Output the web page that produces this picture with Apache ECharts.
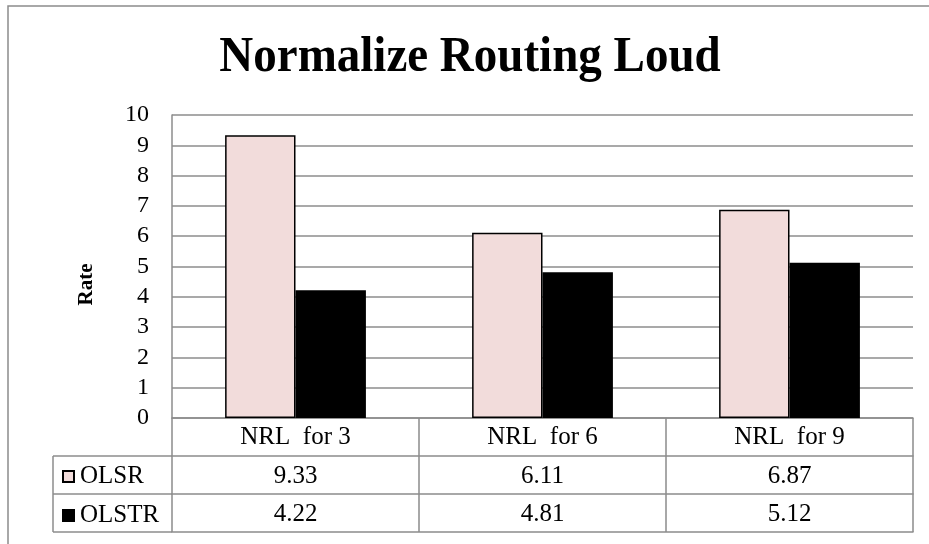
<!DOCTYPE html>
<html><head><meta charset="utf-8">
<script src="https://cdn.jsdelivr.net/npm/echarts@6/dist/echarts.min.js"></script>
<style>html,body{margin:0;padding:0;background:#fff}#c{width:929px;height:544px}</style>
</head><body><div id="c"></div>
<script>
const titleText = 'Normalize Routing Loud';
const categories = ['NRL  for 3', 'NRL  for 6', 'NRL  for 9'];
const seriesNames = ['OLSR', 'OLSTR'];
const olsr = [9.33, 6.11, 6.87];
const olstr = [4.22, 4.81, 5.12];
const yTicks = [0, 1, 2, 3, 4, 5, 6, 7, 8, 9, 10];

const FONT = '"Liberation Serif", "Times New Roman", serif';
const GRAY = '#8c8c8c';
const chart = echarts.init(document.getElementById('c'), null, {renderer: 'canvas'});
const gl = 172, gr = 16, gt = 115, gb = 126;
const axisY = 544 - gb;
const rowH = 38;

function tableAxis(values, idx) {
  return {
    type: 'category', data: categories, position: 'bottom', offset: rowH * idx,
    gridIndex: 0,
    axisLine: {show: true, lineStyle: {color: GRAY, width: 1.5}},
    axisTick: {show: values !== null, length: rowH, lineStyle: {color: GRAY, width: 1.5}},
    axisLabel: values === null ? {show: false} : {
      show: true, margin: 8, color: '#000', fontFamily: FONT, fontSize: 25,
      formatter: (v, i) => values[i].toFixed(2)
    },
    splitLine: {show: false}
  };
}

const option = {
  animation: false,
  backgroundColor: '#fff',
  grid: {left: gl, right: gr, top: gt, bottom: gb, containLabel: false},
  legend: {
    orient: 'vertical', left: 57, top: 459, itemGap: 14, itemWidth: 11, itemHeight: 11,
    icon: 'rect', data: seriesNames,
    textStyle: {fontFamily: FONT, fontSize: 25, color: '#000', padding: [0, 0, 0, 1]}
  },
  xAxis: [
    {
      type: 'category', data: categories, position: 'bottom',
      axisLine: {show: true, lineStyle: {color: GRAY, width: 1.5}},
      axisTick: {show: true, length: rowH, lineStyle: {color: GRAY, width: 1.5}},
      axisLabel: {show: true, margin: 7, color: '#000', fontFamily: FONT, fontSize: 25},
      splitLine: {show: false}
    },
    tableAxis(olsr, 1),
    tableAxis(olstr, 2),
    tableAxis(null, 3)
  ],
  yAxis: {
    type: 'value', min: yTicks[0], max: yTicks[yTicks.length - 1], interval: 1,
    name: 'Rate', nameLocation: 'middle', nameGap: 75, nameRotate: 90,
    nameTextStyle: {fontFamily: FONT, fontSize: 21, fontWeight: 'bold', color: '#000', padding: [0, 0, 0, -36]},
    axisLine: {show: true, lineStyle: {color: GRAY, width: 1.5}},
    axisTick: {show: false},
    axisLabel: {color: '#000', fontFamily: FONT, fontSize: 24, margin: 23},
    splitLine: {show: true, lineStyle: {color: GRAY, width: 1.5}}
  },
  series: [
    {name: seriesNames[0], type: 'bar', data: olsr, barGap: '0%', barCategoryGap: '43%',
      itemStyle: {color: '#f2dcdb', borderColor: '#000', borderWidth: 1.5}},
    {name: seriesNames[1], type: 'bar', data: olstr, barGap: '0%', barCategoryGap: '43%',
      itemStyle: {color: '#000', borderColor: '#000', borderWidth: 1.5}}
  ],
  graphic: [
    {type: 'rect', shape: {x: 8, y: 6, width: 940, height: 560}, style: {fill: 'none', stroke: GRAY, lineWidth: 1.5}, silent: true},
    {type: 'text', x: 470, y: 58, scaleY: 1.06, style: {text: titleText, fontFamily: FONT, fontSize: 47, fontWeight: 'bold', fill: '#000', textAlign: 'center', textVerticalAlign: 'middle'}},
    {type: 'line', shape: {x1: 53, y1: axisY + rowH, x2: gl, y2: axisY + rowH}, style: {stroke: GRAY, lineWidth: 1.5}},
    {type: 'line', shape: {x1: 53, y1: axisY + rowH * 2, x2: gl, y2: axisY + rowH * 2}, style: {stroke: GRAY, lineWidth: 1.5}},
    {type: 'line', shape: {x1: 53, y1: axisY + rowH * 3, x2: gl, y2: axisY + rowH * 3}, style: {stroke: GRAY, lineWidth: 1.5}},
    {type: 'line', shape: {x1: 53, y1: axisY + rowH, x2: 53, y2: axisY + rowH * 3}, style: {stroke: GRAY, lineWidth: 1.5}}
  ]
};
chart.setOption(option);
</script></body></html>
